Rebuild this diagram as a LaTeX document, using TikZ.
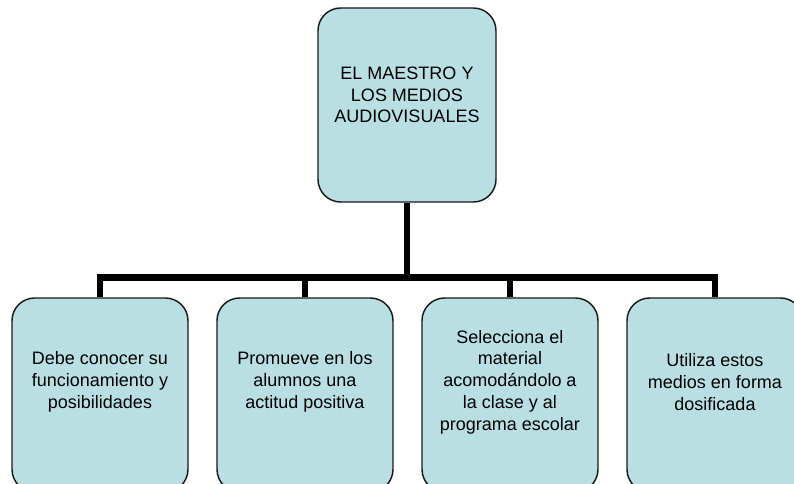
\documentclass[tikz,border=0pt]{standalone}
\usepackage{fontspec}
\setmainfont{Liberation Sans}
\definecolor{boxfill}{HTML}{B9DFE3}
\definecolor{boxline}{HTML}{1A1A1A}
\begin{document}
\begin{tikzpicture}[x=0.75pt,y=-0.75pt,
  box/.style={draw=boxline,line width=1.1pt,fill=boxfill,rounded corners=17pt,
    minimum width=132pt,minimum height=145.5pt,inner sep=0pt},
  txt/.style={align=center,font=\fontsize{13.5pt}{16.3pt}\selectfont,inner sep=0pt},
  conn/.style={line width=4.6pt,draw=black,line join=miter}]
\useasboundingbox (0,0) rectangle (794,484);
\fill[white] (0,0) rectangle (794,484);
\begin{scope}
\clip (0,0) rectangle (794,484);
\node[box,minimum width=133.5pt] (top) at (407,105) {};
\node[txt] (ttop) at (407,95) {EL MAESTRO Y\\LOS MEDIOS\\AUDIOVISUALES};
\coordinate (bus) at (407,277.5);
\node[box] (b1) at (100,395) {};
\node[box] (b2) at (305,395) {};
\node[box] (b3) at (510,395) {};
\node[box] (b4) at (715,395) {};
\node[txt] (t1) at (100,382) {Debe conocer su\\funcionamiento y\\posibilidades};
\node[txt] (t2) at (305,382) {Promueve en los\\alumnos una\\actitud positiva};
\node[txt] (t3) at (510,382) {Selecciona el\\material\\acomodándolo a\\la clase y al\\programa escolar};
\node[txt] (t4) at (715,382) {Utiliza estos\\medios en forma\\dosificada};
\draw[conn] (top.south) -- (top.south |- bus);
\draw[conn] (b1.north) -- (b1.north |- bus) -- (b4.north |- bus) -- (b4.north);
\draw[conn] (b2.north) -- (b2.north |- bus);
\draw[conn] (b3.north) -- (b3.north |- bus);
\end{scope}
\end{tikzpicture}
\end{document}
